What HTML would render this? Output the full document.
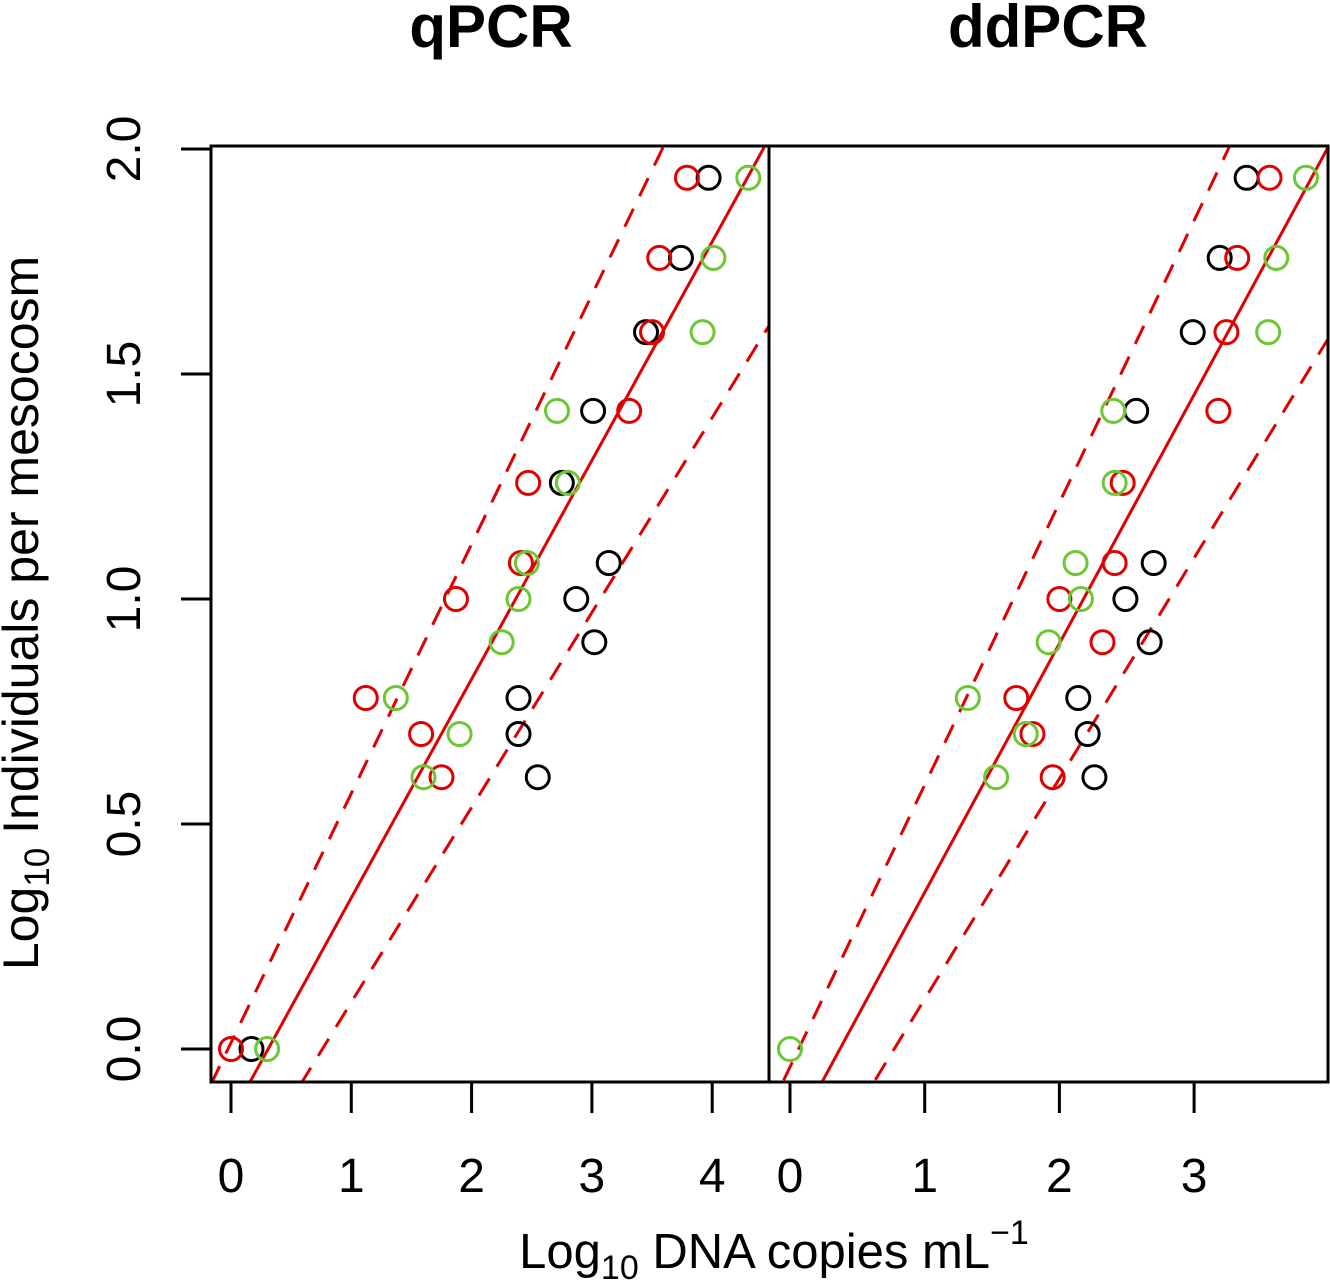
<!DOCTYPE html>
<html><head><meta charset="utf-8"><style>
html,body{margin:0;padding:0;background:#fff;width:1330px;height:1283px;overflow:hidden}
svg{display:block;font-family:"Liberation Sans",Arial,sans-serif}
</style></head><body>
<svg id="chart" width="1330" height="1283" viewBox="0 0 1330 1283" xmlns="http://www.w3.org/2000/svg">
<text x="491" y="47" font-size="60" font-weight="bold" text-anchor="middle">qPCR</text>
<text x="1048" y="47" font-size="60" font-weight="bold" text-anchor="middle">ddPCR</text>
<text transform="translate(38,613) rotate(-90)" font-size="50" text-anchor="middle">Log<tspan font-size="35" dy="11">10</tspan><tspan dy="-11"> Individuals per mesocosm</tspan></text>
<text x="774" y="1268" font-size="49" text-anchor="middle">Log<tspan font-size="34" dy="11">10</tspan><tspan dy="-11"> DNA copies mL</tspan><tspan font-size="34" dy="-24">−1</tspan></text>
<g id="plot"></g>
</svg>
<script>
const yTicks=[0,0.5,1,1.5,2];
const yTickLabels=["0.0","0.5","1.0","1.5","2.0"];
const qTicks=[0,1,2,3,4];
const dTicks=[0,1,2,3];
const qBlackX=[0.17,2.55,2.39,2.39,3.02,2.87,3.14,2.75,3.01,3.45,3.74,3.97];
const qBlackY=[0,0.604,0.70,0.78,0.904,1.0,1.08,1.258,1.418,1.593,1.758,1.936];
const qRedX=[0,1.75,1.58,1.12,1.87,2.41,2.47,3.31,3.5,3.56,3.79];
const qRedY=[0,0.604,0.70,0.78,1.0,1.08,1.258,1.418,1.593,1.758,1.936];
const qGreenX=[0.30,1.60,1.90,1.37,2.25,2.39,2.46,2.80,2.71,3.92,4.01,4.30];
const qGreenY=[0,0.604,0.70,0.78,0.904,1.0,1.08,1.258,1.418,1.593,1.758,1.936];
const dBlackX=[2.26,2.21,2.14,2.67,2.49,2.70,2.57,2.99,3.19,3.39];
const dBlackY=[0.604,0.70,0.78,0.904,1.0,1.08,1.418,1.593,1.758,1.936];
const dRedX=[1.95,1.80,1.68,2.32,2.00,2.41,2.47,3.18,3.24,3.32,3.56];
const dRedY=[0.604,0.70,0.78,0.904,1.0,1.08,1.258,1.418,1.593,1.758,1.936];
const dGreenX=[0,1.53,1.75,1.32,1.92,2.16,2.12,2.41,2.40,3.55,3.61,3.83];
const dGreenY=[0,0.604,0.70,0.78,0.904,1.0,1.08,1.258,1.418,1.593,1.758,1.936];
// regression lines: [intercept, slope]
const qFit=[-0.150,0.486], qUpper=[0.014,0.554], qLower=[-0.329,0.433];
const dFit=[-0.205,0.553], dUpper=[-0.040,0.627], dLower=[-0.379,0.490];

const NS="http://www.w3.org/2000/svg";
const g=document.getElementById('plot');
const TOP=146,BOT=1082;
function y(v){return 1049-450*v;}
function mk(t,a){const e=document.createElementNS(NS,t);for(const k in a)e.setAttribute(k,a[k]);g.appendChild(e);return e;}

const panels=[
 {name:'qpcr',L:211,R:769,x0:231,sx:120.3,ticks:qTicks,series:[[qBlackX,qBlackY,'#000','black'],[qRedX,qRedY,'#e00000','red'],[qGreenX,qGreenY,'#6cc832','green']],fit:qFit,up:qUpper,lo:qLower},
 {name:'ddpcr',L:769,R:1328,x0:790,sx:134.7,ticks:dTicks,series:[[dBlackX,dBlackY,'#000','black'],[dRedX,dRedY,'#e00000','red'],[dGreenX,dGreenY,'#6cc832','green']],fit:dFit,up:dUpper,lo:dLower}
];
panels.forEach(p=>{
  const xs=v=>p.x0+p.sx*v;
  const xmin=(p.L-p.x0)/p.sx,xmax=(p.R-p.x0)/p.sx;
  const cp=mk('clipPath',{id:'clip-'+p.name});
  const r=document.createElementNS(NS,'rect');r.setAttribute('x',p.L);r.setAttribute('y',TOP);r.setAttribute('width',p.R-p.L);r.setAttribute('height',BOT-TOP);cp.appendChild(r);
  const lg=mk('g',{'clip-path':'url(#clip-'+p.name+')'});
  
  
  [[p.fit,'none','fit-line'],[p.up,'20 14','upper-interval'],[p.lo,'20 14','lower-interval']].forEach(([c,d,n])=>{
    const l=document.createElementNS(NS,'line');
    l.setAttribute('x1',xs(xmin));l.setAttribute('y1',y(c[0]+c[1]*xmin));
    l.setAttribute('x2',xs(xmax));l.setAttribute('y2',y(c[0]+c[1]*xmax));
    l.setAttribute('stroke','#e00000');l.setAttribute('stroke-width','3');
    if(d!=='none')l.setAttribute('stroke-dasharray',d);
    
    
    lg.appendChild(l);
  });
  p.series.forEach(([X,Y,col,nm])=>{
    X.forEach((xv,i)=>{
      const c=mk('circle',{cx:xs(xv),cy:y(Y[i]),r:11.5,fill:'none',stroke:col,'stroke-width':3});
      
      
    });
  });
  const bx=mk('rect',{x:p.L,y:TOP,width:p.R-p.L,height:BOT-TOP,fill:'none',stroke:'#000','stroke-width':3});
  
  
  p.ticks.forEach(t=>{
    const tk=mk('line',{x1:xs(t),x2:xs(t),y1:BOT,y2:1113,stroke:'#000','stroke-width':3});
    
    
    const tl=mk('text',{x:xs(t),y:1192,'font-size':48,'text-anchor':'middle'});
    tl.textContent=t;
    
    
  });
});
yTicks.forEach((t,i)=>{
  const tk=mk('line',{x1:181,x2:211,y1:y(t),y2:y(t),stroke:'#000','stroke-width':3});
  
  
  const tl=mk('text',{transform:'translate(140,'+y(t)+') rotate(-90)','font-size':48,'text-anchor':'middle'});
  tl.textContent=yTickLabels[i];
  
  
});
</script>
</body></html>
